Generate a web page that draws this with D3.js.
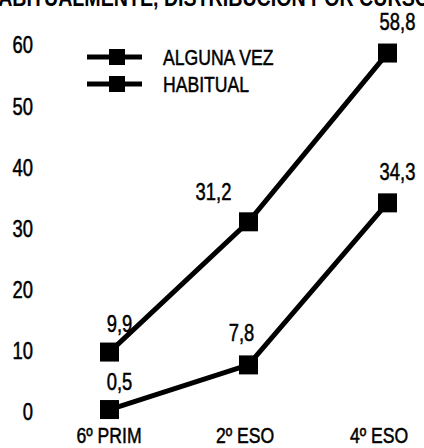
<!DOCTYPE html>
<html>
<head>
<meta charset="utf-8">
<script src="https://cdn.jsdelivr.net/npm/d3@7"></script>
<style>
  html, body { margin: 0; padding: 0; background: #fff; }
  svg { display: block; }
  text { font-family: "Liberation Sans", Arial, sans-serif; fill: #000; stroke: #000; stroke-width: 0.5px; }
  text.title { stroke: none; }
</style>
</head>
<body>
<script>
// Courses on the x axis
const cursos = ["6º PRIM", "2º ESO", "4º ESO"];
// Percentage per course for each series
const algunaVez = [9.9, 31.2, 58.8];
const habitual = [0.5, 7.8, 34.3];
const seriesNames = ["ALGUNA VEZ", "HABITUAL"];
// Y tick values
const yTicks = [0, 10, 20, 30, 40, 50, 60];
const titulo = "HABITUALMENTE, DISTRIBUCIÓN POR CURSO";

const W = 424, H = 448;
const NARROW = 0.8; // horizontal squeeze for a condensed look
const svg = d3.select("body").append("svg").attr("width", W).attr("height", H);

const x = d3.scalePoint().domain(cursos).range([109.5, 387.5]);
const y = d3.scaleLinear().domain([0, 60]).range([412.6, 45.7]);

// Places a condensed text at (px, py)
function narrowText(parent, px, py, str, size, anchor) {
  return parent.append("text")
    .attr("transform", `translate(${px},${py}) scale(${NARROW},1)`)
    .attr("text-anchor", anchor || "start")
    .style("font-size", size + "px")
    .text(str);
}

// Title, running off the top edge
svg.append("text").attr("class", "title")
  .attr("x", -16).attr("y", 6)
  .attr("textLength", 446).attr("lengthAdjust", "spacingAndGlyphs")
  .style("font-weight", "bold").style("font-size", "24px")
  .text(titulo);

// Y axis: labels only
const yAxis = d3.axisLeft(y).tickValues(yTicks).tickSize(0).tickPadding(0).tickFormat(d3.format("d"));
const gy = svg.append("g").attr("transform", "translate(33,-1)").call(yAxis);
gy.select(".domain").remove();
gy.selectAll("text")
  .attr("font-family", null).attr("x", null).attr("dy", "0.36em")
  .attr("transform", `scale(${NARROW},1)`)
  .style("font-size", "23px");

// X axis: labels only
const xAxis = d3.axisBottom(x).tickSize(0).tickPadding(0);
const gx = svg.append("g").attr("transform", "translate(0,443)").call(xAxis);
gx.select(".domain").remove();
gx.selectAll("text")
  .attr("font-family", null).attr("y", null).attr("dy", null)
  .attr("transform", (d, i) => `translate(${[-1, -4, -9][i]},0) scale(${NARROW},1)`)
  .style("font-size", "22px");

const line = d3.line().x((d, i) => x(cursos[i])).y(d => y(d));
const M = 19;

[algunaVez, habitual].forEach(vals => {
  svg.append("path").datum(vals).attr("d", line)
    .attr("fill", "none").attr("stroke", "#000").attr("stroke-width", 5);
  svg.selectAll(null).data(vals).enter().append("rect")
    .attr("x", (d, i) => x(cursos[i]) - M / 2)
    .attr("y", d => y(d) - M / 2)
    .attr("width", M).attr("height", M).attr("fill", "#000");
});

// Value labels above each marker
const labelOffsets = [
  [[10, -20], [-35, -22], [10, -23]],
  [[10, -20], [-7, -24], [10, -23]]
];
const fmt = v => d3.format(".1f")(v).replace(".", ",");
[algunaVez, habitual].forEach((vals, s) => {
  vals.forEach((v, i) => {
    narrowText(svg, x(cursos[i]) + labelOffsets[s][i][0], y(v) + labelOffsets[s][i][1], fmt(v), 23, "middle");
  });
});

// Legend
const legend = svg.append("g");
seriesNames.forEach((name, i) => {
  const ly = 57 + i * 27;
  legend.append("line").attr("x1", 87).attr("x2", 142).attr("y1", ly).attr("y2", ly)
    .attr("stroke", "#000").attr("stroke-width", 5);
  legend.append("rect").attr("x", 109).attr("y", ly - 8).attr("width", 16).attr("height", 16).attr("fill", "#000");
  narrowText(legend, 163, ly + 8, name, 22);
});
</script>
</body>
</html>
